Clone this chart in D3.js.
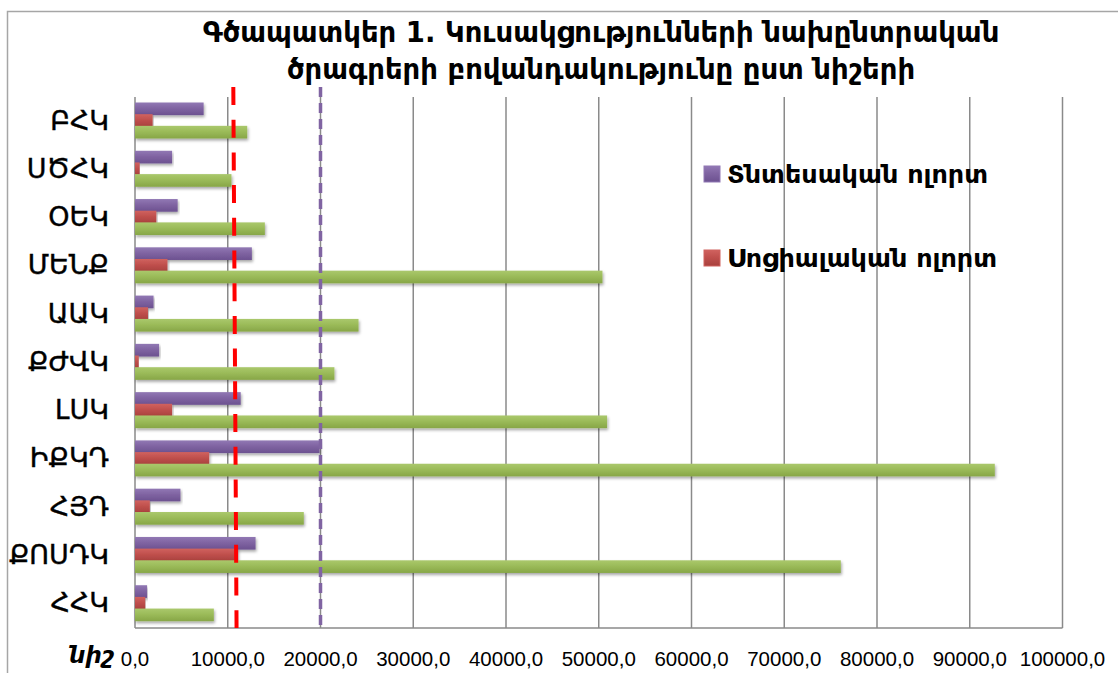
<!DOCTYPE html>
<html>
<head>
<meta charset="utf-8">
<script src="https://cdn.jsdelivr.net/npm/d3@7"></script>
<style>
  body { margin: 0; background: #fff; }
  svg { display: block; }
</style>
</head>
<body>
<div id="graph"></div>
<script>
// parties, top to bottom
var parties = ["ԲՀԿ", "ՍԾՀԿ", "ՕԵԿ", "ՄԵՆՔ", "ԱԱԿ", "ՔԺՎԿ", "ԼՍԿ", "ԻՔԿԴ", "ՀՅԴ", "ՔՈՍԴԿ", "ՀՀԿ"];
var seriesNames = ["Տնտեսական ոլորտ", "Սոցիալական ոլորտ", "Ընդամենը"];
var economic = [7400, 4000, 4600, 12600, 2000, 2600, 11400, 19900, 4900, 13000, 1300];
var social   = [1900, 500, 2300, 3500, 1400, 400, 4000, 8000, 1600, 11100, 1100];
var total    = [12100, 10400, 14000, 50400, 24100, 21500, 50900, 92700, 18200, 76100, 8500];
var xTicks = [0, 10000, 20000, 30000, 40000, 50000, 60000, 70000, 80000, 90000, 100000];
var redLine = [10600, 10950];   // hand drawn line, top and bottom value
var purpleLine = 20000;
var titleLines = ["Գծապատկեր 1. Կուսակցությունների նախընտրական", "ծրագրերի բովանդակությունը ըստ նիշերի"];
var axisLabel = "նիշ";

var colors = ["#8064a2", "#c0504d", "#9bbb59"];
var light  = ["#9178b4", "#d0625f", "#aac86c"];
var dark   = ["#6c5190", "#a8403d", "#87a647"];

var W = 1118, H = 673;
var margin = {top: 97, right: 55, bottom: 45, left: 135};

var svg = d3.select("#graph").append("svg")
  .attr("width", W)
  .attr("height", H);

var defs = svg.append("defs");
var shadow = defs.append("filter").attr("id", "shadow")
  .attr("x", "-5%").attr("y", "-30%").attr("width", "110%").attr("height", "180%");
shadow.append("feDropShadow")
  .attr("dx", 1).attr("dy", 2).attr("stdDeviation", 1.5)
  .attr("flood-color", "#000").attr("flood-opacity", 0.35);

colors.forEach(function (c, i) {
  var g = defs.append("linearGradient").attr("id", "grad" + i)
    .attr("x1", 0).attr("y1", 0).attr("x2", 0).attr("y2", 1);
  g.append("stop").attr("offset", "0%").attr("stop-color", light[i]);
  g.append("stop").attr("offset", "45%").attr("stop-color", c);
  g.append("stop").attr("offset", "100%").attr("stop-color", dark[i]);
});

// chart border
svg.append("rect")
  .attr("x", 7.5).attr("y", 11.5)
  .attr("width", W + 20).attr("height", H + 20)
  .style("fill", "none")
  .style("stroke", "#a6a6a6")
  .style("stroke-width", 1.5);

var x = d3.scaleLinear()
  .domain([0, 100000])
  .range([margin.left, W - margin.right - 0.5]);

var y = d3.scaleBand()
  .domain(parties)
  .range([margin.top, H - margin.bottom]);

var sub = d3.scaleBand()
  .domain(d3.range(3))
  .range([5.5, 40.5]);

// gridlines
svg.append("g").selectAll("line")
  .data(xTicks.slice(1))
  .enter().append("line")
    .attr("x1", function (d) { return x(d); })
    .attr("x2", function (d) { return x(d); })
    .attr("y1", margin.top)
    .attr("y2", H - margin.bottom)
    .style("stroke", "#8a8a8a")
    .style("stroke-width", 1.5);

// axis lines
svg.append("line")
  .attr("x1", x(0)).attr("x2", x(0))
  .attr("y1", margin.top).attr("y2", H - margin.bottom)
  .style("stroke", "#8a8a8a").style("stroke-width", 1.5);
svg.append("line")
  .attr("x1", x(0)).attr("x2", x(100000))
  .attr("y1", H - margin.bottom).attr("y2", H - margin.bottom)
  .style("stroke", "#8a8a8a").style("stroke-width", 1.5);

// bars
var allSeries = [economic, social, total];
var bars = svg.append("g");
allSeries.forEach(function (vals, s) {
  bars.append("g")
    .selectAll("rect")
    .data(parties)
    .enter().append("rect")
      .attr("x", x(0))
      .attr("y", function (d) { return y(d) + sub(s); })
      .attr("width", function (d, i) { return x(vals[i]) - x(0); })
      .attr("height", sub.bandwidth() + 1)
      .style("fill", "url(#grad" + s + ")")
      .attr("filter", "url(#shadow)");
});

// x labels
svg.append("g").selectAll("text")
  .data(xTicks)
  .enter().append("text")
    .attr("x", function (d) { return x(d); })
    .attr("y", 666)
    .attr("text-anchor", "middle")
    .style("font-family", "'Liberation Sans', Arial, sans-serif")
    .style("font-size", "20.5px")
    .style("fill", "#000")
    .text(function (d) { return d3.format(".1f")(d).replace(".", ","); });

svg.append("text")
  .attr("x", 69)
  .attr("y", 663)
  .style("font-family", "'DejaVu Sans', sans-serif")
  .style("font-size", "23px")
  .style("font-style", "italic")
  .style("font-weight", "bold")
  .text(axisLabel);

// y labels
svg.append("g").selectAll("text")
  .data(parties)
  .enter().append("text")
    .attr("x", 109)
    .attr("y", function (d) { return y(d) + y.bandwidth() / 2 - 1; })
    .attr("dy", "0.35em")
    .attr("text-anchor", "end")
    .style("font-family", "'DejaVu Sans', sans-serif")
    .style("font-size", "27px")
    .style("fill", "#000")
    .style("stroke", "#000")
    .style("stroke-width", 0.4)
    .text(function (d) { return d; });

// reference lines
svg.append("line")
  .attr("x1", x(purpleLine)).attr("x2", x(purpleLine))
  .attr("y1", 87).attr("y2", 630)
  .style("stroke", "#8064a2")
  .style("stroke-width", 3.5)
  .style("stroke-dasharray", "10,6");

svg.append("line")
  .attr("x1", x(redLine[0])).attr("x2", x(redLine[1]))
  .attr("y1", 87).attr("y2", 628)
  .style("stroke", "#ff0000")
  .style("stroke-width", 4)
  .style("stroke-dasharray", "18,14.7");

// title
svg.append("g").selectAll("text")
  .data(titleLines)
  .enter().append("text")
    .attr("x", 601)
    .attr("y", function (d, i) { return 42 + i * 37; })
    .attr("text-anchor", "middle")
    .style("font-family", "'DejaVu Sans', sans-serif")
    .style("font-size", "27.5px")
    .style("font-weight", "bold")
    .text(function (d) { return d; });

// legend (only the first two series)
var legend = svg.append("g");
[0, 1].forEach(function (s) {
  var ly = 174 + s * 84;
  legend.append("rect")
    .attr("x", 704).attr("y", ly - 8)
    .attr("width", 16).attr("height", 16)
    .style("fill", "url(#grad" + s + ")")
    .style("stroke", light[s]);
  legend.append("text")
    .attr("x", 727).attr("y", ly)
    .attr("dy", "0.35em")
    .style("font-family", "'DejaVu Sans', sans-serif")
    .style("font-size", "25.5px")
    .style("font-weight", "bold")
    .text(seriesNames[s]);
});
</script>
</body>
</html>
